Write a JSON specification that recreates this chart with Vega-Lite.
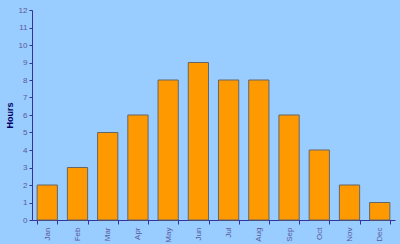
{
  "$schema": "https://vega.github.io/schema/vega-lite/v6.json",
  "autosize": {"type": "none"},
  "width": 363,
  "height": 210,
  "padding": {"left": 32, "top": 10, "right": 5, "bottom": 24},
  "background": "#99CCFF",
  "config": {"view": {"stroke": null}, "font": "Liberation Sans"},
  "data": {"values": [
    {"month": "Jan", "hours": 2}, {"month": "Feb", "hours": 3}, {"month": "Mar", "hours": 5},
    {"month": "Apr", "hours": 6}, {"month": "May", "hours": 8}, {"month": "Jun", "hours": 9},
    {"month": "Jul", "hours": 8}, {"month": "Aug", "hours": 8}, {"month": "Sep", "hours": 6},
    {"month": "Oct", "hours": 4}, {"month": "Nov", "hours": 2}, {"month": "Dec", "hours": 1}
  ]},
  "mark": {"type": "bar", "color": "#FF9900", "stroke": "#666666", "strokeWidth": 1},
  "encoding": {
    "x": {"field": "month", "type": "nominal", "sort": null,
      "scale": {"paddingInner": 0.33, "paddingOuter": 0.17},
      "axis": {"title": null, "labelAngle": 270, "labelAlign": "right", "labelFontSize": 8, "labelColor": "#5A5A99",
        "domainColor": "#333399", "tickColor": "#333399", "tickBand": "extent", "tickSize": 4,
        "labelPadding": 3, "labelBaseline": "middle"}},
    "y": {"field": "hours", "type": "quantitative",
      "scale": {"domain": [0, 12]},
      "axis": {"title": "Hours", "titleFontSize": 9, "titleColor": "#000066", "titleFontWeight": "bold",
        "titlePadding": 4, "values": [0,1,2,3,4,5,6,7,8,9,10,11,12], "grid": false,
        "labelFontSize": 8, "labelColor": "#5A5A99", "domainColor": "#333399", "tickColor": "#333399",
        "tickSize": 3, "labelPadding": 2}}
  }
}
